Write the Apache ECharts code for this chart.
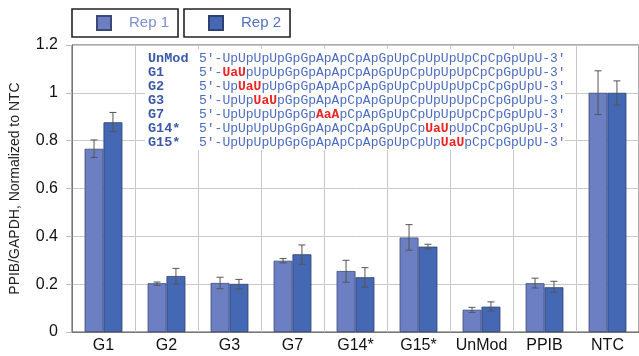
<!DOCTYPE html>
<html>
<head>
<meta charset="utf-8">
<script src="https://cdn.jsdelivr.net/npm/echarts@6/dist/echarts.min.js"></script>
<style>
  html, body { margin: 0; padding: 0; background: #fff; }
  #chart { width: 639px; height: 356px; }
</style>
</head>
<body>
<div id="chart"></div>
<script>
// Knockdown of PPIB relative to GAPDH, normalized to the non-targeting control
const categories = ['G1', 'G2', 'G3', 'G7', 'G14*', 'G15*', 'UnMod', 'PPIB', 'NTC'];

const rep1     = [0.766, 0.204, 0.205, 0.298, 0.255, 0.395, 0.093, 0.204, 1.0];
const rep1Low  = [0.730, 0.195, 0.181, 0.289, 0.208, 0.342, 0.082, 0.184, 0.909];
const rep1High = [0.803, 0.209, 0.229, 0.307, 0.300, 0.449, 0.103, 0.225, 1.092];

const rep2     = [0.877, 0.234, 0.201, 0.325, 0.229, 0.357, 0.106, 0.187, 1.0];
const rep2Low  = [0.838, 0.200, 0.180, 0.283, 0.188, 0.347, 0.088, 0.166, 0.949];
const rep2High = [0.918, 0.266, 0.220, 0.364, 0.269, 0.367, 0.126, 0.212, 1.050];

const yTicks = [0, 0.2, 0.4, 0.6, 0.8, 1, 1.2];

// Oligo sequences: [prefix, modified linkage, suffix]
const seqNames = ['UnMod', 'G1', 'G2', 'G3', 'G7', 'G14*', 'G15*'];
const seqParts = [
  ["5'-UpUpUpUpGpGpApApCpApGpUpCpUpUpUpCpCpGpUpU-3'", '', ''],
  ["5'-", 'UaU', "pUpUpGpGpApApCpApGpUpCpUpUpUpCpCpGpUpU-3'"],
  ["5'-Up", 'UaU', "pUpGpGpApApCpApGpUpCpUpUpUpCpCpGpUpU-3'"],
  ["5'-UpUp", 'UaU', "pGpGpApApCpApGpUpCpUpUpUpCpCpGpUpU-3'"],
  ["5'-UpUpUpUpGpGp", 'AaA', "pCpApGpUpCpUpUpUpCpCpGpUpU-3'"],
  ["5'-UpUpUpUpGpGpApApCpApGpUpCp", 'UaU', "pUpCpCpGpUpU-3'"],
  ["5'-UpUpUpUpGpGpApApCpApGpUpCpUp", 'UaU', "pCpCpGpUpU-3'"]
];

const COLOR1 = '#6b7fc2';
const COLOR2 = '#4468b4';

const chart = echarts.init(document.getElementById('chart'), null, { renderer: 'canvas' });

function errorSeries(name, lows, highs, side) {
  return {
    type: 'custom',
    name: name + ' err',
    z: 5,
    silent: true,
    data: categories.map((c, i) => [i, lows[i], highs[i]]),
    renderItem: function (params, api) {
      const band = api.size([1, 0])[0];
      const offset = side * band * 0.15;
      const lo = api.coord([api.value(0), api.value(1)]);
      const hi = api.coord([api.value(0), api.value(2)]);
      const x = lo[0] + offset;
      const cap = 3.5;
      const style = { stroke: '#555', lineWidth: 1 };
      return {
        type: 'group',
        children: [
          { type: 'line', shape: { x1: x, y1: lo[1], x2: x, y2: hi[1] }, style },
          { type: 'line', shape: { x1: x - cap, y1: lo[1], x2: x + cap, y2: lo[1] }, style },
          { type: 'line', shape: { x1: x - cap, y1: hi[1], x2: x + cap, y2: hi[1] }, style }
        ]
      };
    }
  };
}

function legendBox(name, left, textColor) {
  return {
    data: [{ name: name, icon: 'rect' }],
    left: left,
    top: 9,
    orient: 'horizontal',
    itemWidth: 14,
    itemHeight: 14,
    padding: [6, 9, 6, 24],
    borderColor: '#222',
    borderWidth: 1.6,
    borderRadius: 0,
    selectedMode: false,
    textStyle: {
      fontFamily: 'Arial, Liberation Sans, sans-serif',
      fontSize: 15,
      color: textColor,
      padding: [0, 0, 0, 13]
    }
  };
}

// Sequence annotation panel
const textX = 148, seqX = 199, rowTop = 59, rowStep = 13.9;
const monoFont = '"Liberation Mono", "DejaVu Sans Mono", monospace';
const graphics = [
  { type: 'rect', z: 1, shape: { x: 145, y: 49, width: 420, height: 101 }, style: { fill: '#fff' } }
];
seqNames.forEach((nm, i) => {
  const y = rowTop + i * rowStep;
  graphics.push({
    type: 'text', z: 2, x: textX, y: y,
    style: {
      text: nm, fill: '#3a5aa8',
      fontFamily: monoFont, fontSize: 13.5, fontWeight: 'bold',
      verticalAlign: 'middle'
    }
  });
  const p = seqParts[i];
  let rich = '{a|' + p[0] + '}';
  if (p[1]) rich += '{r|' + p[1] + '}{a|' + p[2] + '}';
  graphics.push({
    type: 'text', z: 2, x: seqX, y: y,
    style: {
      text: rich,
      fill: '#4a6bc0',
      fontFamily: monoFont, fontSize: 13,
      verticalAlign: 'middle',
      rich: {
        a: { fontFamily: monoFont, fontSize: 13, fill: '#4a6bc0' },
        r: { fontFamily: monoFont, fontSize: 13, fontWeight: 'bold', fill: '#ee2222' }
      }
    }
  });
});

chart.setOption({
  animation: false,
  backgroundColor: '#fff',
  grid: { left: 70, right: 0, top: 45, bottom: 24, show: true, borderColor: '#555', borderWidth: 1 },
  legend: [legendBox('Rep 1', 72, '#7a8fd0'), legendBox('Rep 2', 184, '#5070c0')],
  xAxis: {
    type: 'category',
    data: categories,
    boundaryGap: true,
    axisLine: { lineStyle: { color: '#777' } },
    axisTick: { show: false },
    splitLine: { show: true, interval: 0, lineStyle: { color: '#c8c8c8' } },
    axisLabel: {
      interval: 0, margin: 6, color: '#111',
      fontFamily: 'Arial, Liberation Sans, sans-serif', fontSize: 16
    }
  },
  yAxis: {
    type: 'value',
    min: 0, max: 1.2, interval: 0.2,
    name: 'PPIB/GAPDH, Normalized to NTC',
    nameLocation: 'middle',
    nameGap: 50,
    nameTextStyle: { fontFamily: 'Arial, Liberation Sans, sans-serif', fontSize: 14, color: '#222' },
    axisLine: { show: true, lineStyle: { color: '#777' } },
    axisTick: { show: true, length: 6, lineStyle: { color: '#bbb' } },
    splitLine: { lineStyle: { color: '#c8c8c8' } },
    axisLabel: {
      margin: 14, color: '#111',
      fontFamily: 'Arial, Liberation Sans, sans-serif', fontSize: 16,
      formatter: v => {
        const t = yTicks.find(k => Math.abs(k - v) < 1e-6);
        return String(t !== undefined ? t : v);
      }
    }
  },
  series: [
    {
      name: 'Rep 1', type: 'bar', data: rep1, z: 3,
      barGap: '0%', barCategoryGap: '40%',
      itemStyle: { color: COLOR1, borderColor: '#3c4a78', borderWidth: 0.8 }
    },
    {
      name: 'Rep 2', type: 'bar', data: rep2, z: 3,
      barGap: '0%', barCategoryGap: '40%',
      itemStyle: { color: COLOR2, borderColor: '#2f4170', borderWidth: 0.8 }
    },
    errorSeries('Rep 1', rep1Low, rep1High, -1),
    errorSeries('Rep 2', rep2Low, rep2High, 1)
  ],
  graphic: graphics
});
</script>
</body>
</html>
